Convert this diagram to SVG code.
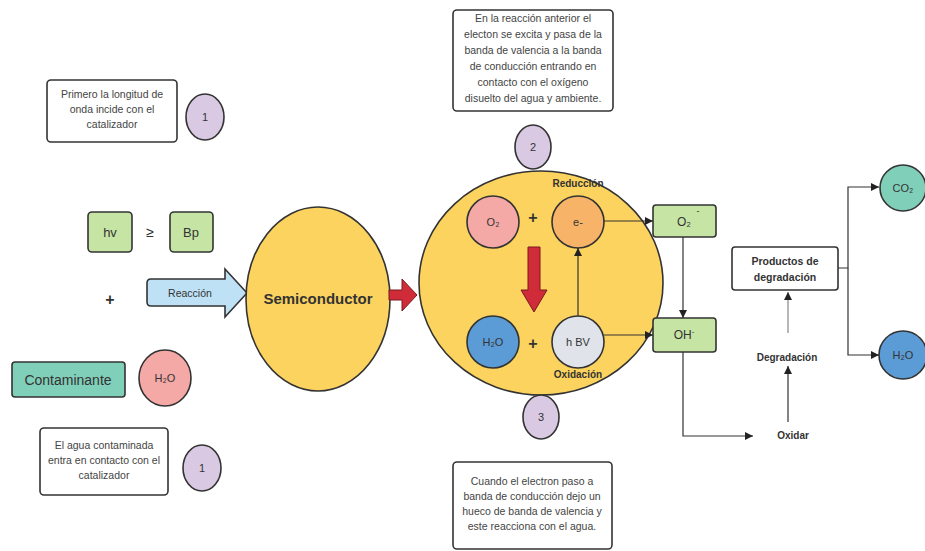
<svg xmlns="http://www.w3.org/2000/svg" width="925" height="551" viewBox="0 0 925 551">
<style>
text{font-family:"Liberation Sans",Arial,sans-serif;fill:#333;text-anchor:middle}
.note{font-size:10.5px;fill:#444}
.nt{fill:#fff;stroke:#333;stroke-width:1.6}
.num{fill:#d9c9e3;stroke:#333;stroke-width:1.6}
.grn{fill:#c6e5a5;stroke:#333;stroke-width:1.6}
.yel{fill:#fcd35e;stroke:#333;stroke-width:1.6}
.b{font-weight:bold}
.ln{fill:none;stroke:#333;stroke-width:1.2}
</style>
<defs>
<marker id="ah" viewBox="0 0 10 10" refX="10" refY="5" markerWidth="8" markerHeight="8" markerUnits="userSpaceOnUse" orient="auto">
<path d="M0,0L10,5L0,10z" fill="#222"/>
</marker>
</defs>

<g id="note1">
<rect class="nt" x="47" y="80" width="130" height="62" rx="4"/>
<text class="note" x="112" y="98">Primero la longitud de</text>
<text class="note" x="112" y="113">onda incide con el</text>
<text class="note" x="112" y="128">catalizador</text>
</g>
<g id="num1a"><ellipse class="num" cx="205" cy="117" rx="19" ry="23"/><text x="205" y="121" font-size="11">1</text></g>

<g id="hv"><rect class="grn" x="88" y="212" width="44" height="40" rx="4"/><text x="110" y="237" font-size="13">hv</text></g>
<text x="150" y="237" font-size="14">≥</text>
<g id="bp"><rect class="grn" x="170" y="212" width="43" height="40" rx="4"/><text x="191" y="237" font-size="13">Bp</text></g>
<text x="110" y="305" font-size="16" class="b">+</text>

<g id="reaccion">
<path d="M151,279H225V269L247,293L225,317V306H151Q147,306 147,302V283Q147,279 151,279Z" fill="#bfe1f5" stroke="#333" stroke-width="1.6"/>
<text x="190" y="297" font-size="10.5" fill="#335">Reacción</text>
</g>

<g id="contaminante"><rect x="12" y="362" width="113" height="35" rx="3" fill="#80cfb9" stroke="#333" stroke-width="1.6"/><text x="68" y="385" font-size="14">Contaminante</text></g>
<g id="h2o-left"><ellipse cx="165" cy="378" rx="26" ry="28" fill="#f5a9a6" stroke="#333" stroke-width="1.6"/><text x="165" y="382" font-size="11">H₂O</text></g>

<g id="note2">
<rect class="nt" x="40" y="428" width="128" height="67" rx="4"/>
<text class="note" x="104" y="449">El agua contaminada</text>
<text class="note" x="104" y="464">entra en contacto con el</text>
<text class="note" x="104" y="479">catalizador</text>
</g>
<g id="num1b"><ellipse class="num" cx="202" cy="468" rx="19" ry="23"/><text x="202" y="472" font-size="11">1</text></g>

<g id="semiconductor"><ellipse class="yel" cx="318" cy="299" rx="72" ry="92"/><text x="318" y="304" font-size="15" class="b">Semiconductor</text></g>

<g id="red-arrow"><path d="M389,290H402V279L417,295L402,311V300H389Z" fill="#cf2b38" stroke="#7a1a20" stroke-width="1"/></g>

<g id="note-top">
<rect class="nt" x="453" y="10" width="160" height="101" rx="4"/>
<text class="note" x="533" y="22">En la reacción anterior el</text>
<text class="note" x="533" y="38">electon se excita y pasa de la</text>
<text class="note" x="533" y="54">banda de valencia  a la banda</text>
<text class="note" x="533" y="70">de conducción entrando en</text>
<text class="note" x="533" y="86">contacto con el oxígeno</text>
<text class="note" x="533" y="102">disuelto del agua y ambiente.</text>
</g>
<g id="num2"><ellipse class="num" cx="533" cy="147" rx="18" ry="22"/><text x="533" y="151" font-size="11">2</text></g>

<g id="catalizador"><ellipse class="yel" cx="541" cy="283" rx="122" ry="112"/>
<text x="578" y="187" font-size="10" class="b">Reducción</text>
<text x="578" y="378" font-size="10" class="b">Oxidación</text>
</g>
<g id="num3"><ellipse class="num" cx="541" cy="417" rx="18" ry="22"/><text x="541" y="421" font-size="11">3</text></g>

<g id="note3">
<rect class="nt" x="453" y="462" width="159" height="87" rx="4"/>
<text class="note" x="532" y="485">Cuando el electron paso a</text>
<text class="note" x="532" y="500">banda de conducción dejo un</text>
<text class="note" x="532" y="515">hueco de banda de valencia y</text>
<text class="note" x="532" y="530">este reacciona con el agua.</text>
</g>

<g id="o2"><circle cx="493" cy="222" r="26" fill="#f5a9a6" stroke="#333" stroke-width="1.6"/><text x="493" y="226" font-size="11">O₂</text></g>
<text x="533" y="223" font-size="16" class="b">+</text>
<g id="e"><circle cx="578" cy="222" r="26" fill="#f7b469" stroke="#333" stroke-width="1.6"/><text x="578" y="226" font-size="11">e-</text></g>
<g id="down-arrow"><path d="M528,247H540V290H547L534,312L521,290H528Z" fill="#cf2b38" stroke="#7a1a20" stroke-width="1"/></g>
<g id="h2o-in"><circle cx="493" cy="342" r="26" fill="#5c9cd6" stroke="#333" stroke-width="1.6"/><text x="493" y="346" font-size="11">H₂O</text></g>
<text x="533" y="349" font-size="16" class="b">+</text>
<g id="hbv"><circle cx="578" cy="342" r="26" fill="#e0e3ea" stroke="#333" stroke-width="1.6"/><text x="578" y="346" font-size="11">h BV</text></g>

<g id="o2-rad"><rect class="grn" x="653" y="205" width="63" height="32" rx="3"/><text x="684" y="226" font-size="12">O₂</text><text x="698" y="214" font-size="9">-</text></g>
<g id="oh"><rect class="grn" x="653" y="318" width="63" height="34" rx="3"/><text x="684" y="339" font-size="12">OH<tspan font-size="8" dy="-5">-</tspan></text></g>

<g id="productos"><rect class="nt" x="732" y="247" width="106" height="43" rx="3"/>
<text x="785" y="265" font-size="10.5" class="b">Productos de</text>
<text x="785" y="281" font-size="10.5" class="b">degradación</text></g>
<g id="degradacion"><text x="787" y="361" font-size="10" class="b">Degradación</text></g>
<g id="oxidar"><text x="793" y="439" font-size="10" class="b">Oxidar</text></g>

<g id="co2"><circle cx="903" cy="188" r="23" fill="#80cfb9" stroke="#333" stroke-width="1.6"/><text x="903" y="192" font-size="11">CO₂</text></g>
<g id="h2o-right"><circle cx="903" cy="355" r="24" fill="#5c9cd6" stroke="#333" stroke-width="1.6"/><text x="903" y="359" font-size="11">H₂O</text></g>

<g id="connectors">
<path class="ln" d="M604,221H653" marker-end="url(#ah)"/>
<path class="ln" d="M578,316V248" marker-end="url(#ah)"/>
<path class="ln" d="M604,335H653" marker-end="url(#ah)"/>
<path class="ln" d="M683,237V318" marker-end="url(#ah)"/>
<path class="ln" d="M683,352V436H753" marker-end="url(#ah)"/>
<path class="ln" d="M788,422V366" marker-end="url(#ah)"/>
<path d="M788,333V292" fill="none" stroke="#888" stroke-width="1.2" marker-end="url(#ah)"/>
<path class="ln" d="M838,268H848V187H879" marker-end="url(#ah)"/>
<path class="ln" d="M848,268V355H879" marker-end="url(#ah)"/>
</g>
</svg>
